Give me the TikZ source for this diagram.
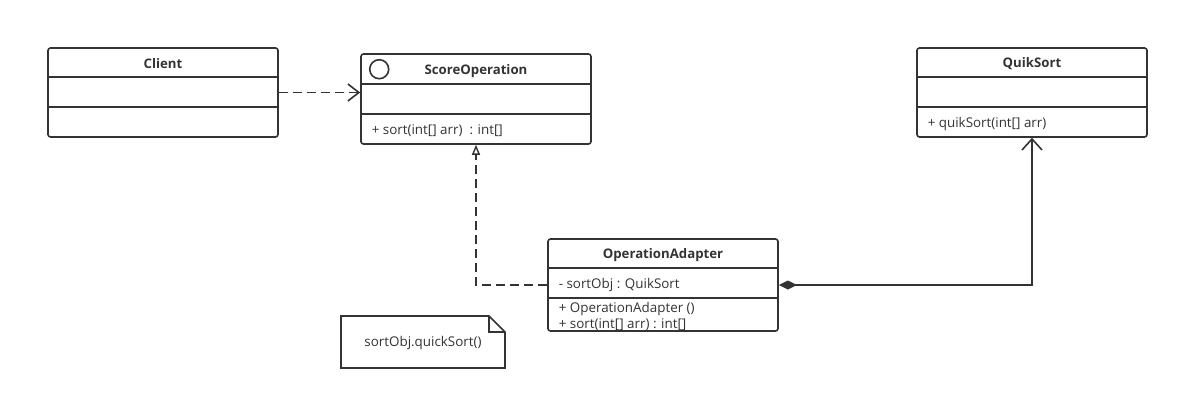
\documentclass[tikz,border=0pt]{standalone}
\usepackage{fontspec}
\setmainfont{Open Sans}
\usetikzlibrary{arrows.meta,calc}
\definecolor{umlgray}{RGB}{51,51,51}
\tikzset{every picture/.style={line width=1.6pt}}
\tikzset{
  classbox/.style={draw=umlgray, rounded corners=2.5pt, minimum width=230, minimum height=90, inner sep=0pt},
  classtitle/.style={text=umlgray, font=\bfseries\fontsize{13.2}{15}\selectfont, inner sep=0.75pt},
  member/.style={text=umlgray, font=\fontsize{13.4}{15}\selectfont, anchor=west, inner sep=0.75pt, align=left},
  divider/.style={draw=umlgray},
  dashline/.style={draw=umlgray, line width=1.8pt, dash pattern=on 9pt off 5pt}
}

\begin{document}
\begin{tikzpicture}[x=1pt,y=1pt,yscale=-1,xscale=1]
\useasboundingbox (0,0) rectangle (1179,400);
		%Shape: Rectangle [Client]
		\node [classbox, minimum height=89] (client) at (163,92.5) {};
		\draw [divider] ($(client.north west)+(0,30)$) -- ($(client.north east)+(0,30)$) ;
		\draw [divider] ($(client.north west)+(0,60)$) -- ($(client.north east)+(0,60)$) ;
		%Shape: Rectangle [ScoreOperation]
		\node [classbox] (score) at (476,99) {};
		\draw [divider] ($(score.north west)+(0,31)$) -- ($(score.north east)+(0,31)$) ;
		\draw [divider] ($(score.north west)+(0,61)$) -- ($(score.north east)+(0,61)$) ;
		%Shape: Circle
		\draw [umlgray] ($(score.north west)+(19,16)$) circle (9.5) ;
		%Shape: Rectangle [QuikSort]
		\node [classbox, minimum height=89] (quik) at (1032,92.5) {};
		\draw [divider] ($(quik.north west)+(0,30)$) -- ($(quik.north east)+(0,30)$) ;
		\draw [divider] ($(quik.north west)+(0,60)$) -- ($(quik.north east)+(0,60)$) ;
		%Shape: Rectangle [OperationAdapter]
		\node [classbox, minimum height=92] (adapter) at (663,285) {};
		\draw [divider] ($(adapter.north west)+(0,30)$) -- ($(adapter.north east)+(0,30)$) ;
		\draw [divider] ($(adapter.north west)+(0,60)$) -- ($(adapter.north east)+(0,60)$) ;
		%Shape: Note
		\draw [umlgray] (341,316) -- (489,316) -- (505,332) -- (505,368) -- (341,368) -- cycle ;
		\draw [umlgray] (489,316) -- (489,332) -- (505,332) ;

		% Text Node
		\node [classtitle] (clientname) at ($(client.north)+(0,16.5)$) {Client};
		% Text Node
		\node [classtitle] (scorename) at ($(score.north)+(0,17.5)$) {ScoreOperation};
		% Text Node
		\node [member] (scoresort) at ($(score.north west)+(10,77.5)$) {+ sort(int[] arr)~~: int[]};
		% Text Node
		\node [classtitle] (quikname) at ($(quik.north)+(0,16.5)$) {QuikSort};
		% Text Node
		\node [member] (quikmethod) at ($(quik.north west)+(10,77)$) {+ quikSort(int[] arr)};
		% Text Node
		\node [classtitle] (adaptername) at ($(adapter.north)+(0,17)$) {OperationAdapter};
		% Text Node
		\node [member] (adapterfield) at ($(adapter.north west)+(10,47)$) {- sortObj : QuikSort};
		% Text Node
		\node [member] (adapterctor) at ($(adapter.north west)+(10,70.5)$) {+ OperationAdapter ()};
		% Text Node
		\node [member] (adaptersort) at ($(adapter.north west)+(10,86.5)$) {+ sort(int[] arr) : int[]};
		% Text Node
		\node [text=umlgray, font=\fontsize{13.4}{15}\selectfont, inner sep=0.75pt] (notetext) at (423,343.5) {sortObj.quickSort()};

		%Straight Lines [dependency]
		\draw [dashline, -{Straight Barb[length=11pt,width=17pt,line width=1.6pt]}] (client.east) -- (client.east -| score.west) ;
		%Straight Lines [realization]
		\draw [dashline, -{Triangle[open,length=10pt,width=8pt,line width=1.4pt]}] (adapter.west) -| (score.south) ;
		%Straight Lines [composition]
		\draw [draw=umlgray, {Diamond[length=18pt,width=9pt,fill=umlgray]}-{Straight Barb[length=11pt,width=20pt]}] (adapter.east) -| (quik.south) ;
\end{tikzpicture}
\end{document}
